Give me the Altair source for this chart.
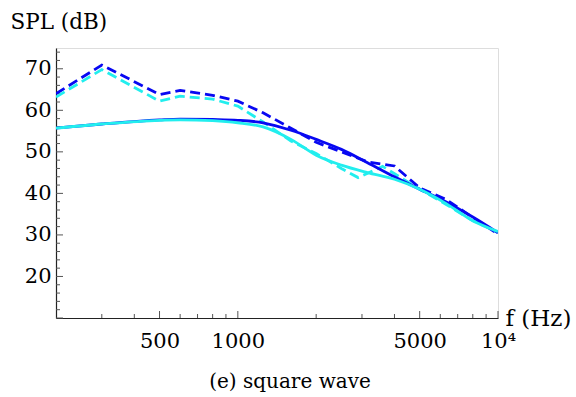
import altair as alt
import pandas as pd

# ---- data ----
freq_blue_dashed = [200, 300, 500, 600, 800, 1000, 1250, 1600, 2000, 2500, 3150, 4000, 5000, 6300, 8000, 10000]
spl_blue_dashed = [64.0, 70.9, 63.8, 64.8, 63.6, 62.2, 59.4, 55.7, 52.3, 50.0, 47.6, 46.6, 41.3, 38.6, 34.2, 30.2]

freq_cyan_dashed = [200, 300, 500, 600, 800, 1000, 1250, 1600, 2000, 2500, 2900, 3600, 5000, 6300, 8000, 10000]
spl_cyan_dashed = [63.2, 69.8, 62.2, 63.4, 62.7, 61.0, 57.2, 52.6, 49.6, 46.0, 43.8, 46.5, 41.0, 37.4, 33.4, 30.6]

freq_smooth = [200, 300, 500, 600, 800, 1000, 1250, 1600, 2000, 2500, 3150, 4000, 5000, 6300, 8000, 10000]
spl_blue_solid = [55.7, 56.7, 57.7, 57.9, 57.8, 57.6, 57.0, 55.2, 53.0, 50.6, 47.4, 44.0, 41.0, 38.0, 34.3, 30.5]
spl_cyan_solid = [55.7, 56.7, 57.6, 57.7, 57.5, 57.0, 56.0, 53.0, 49.2, 46.8, 45.0, 43.4, 41.0, 37.6, 33.4, 30.8]

y_major = [10, 20, 30, 40, 50, 60, 70]
y_minor = [v for v in range(12, 76, 2) if v % 10 != 0]
y_labels = [20, 30, 40, 50, 60, 70]
x_major = [500, 1000, 5000, 10000]
x_minor = [300, 400, 600, 700, 800, 900, 2000, 3000, 4000, 6000, 7000, 8000, 9000]

W, H = 442, 270
FONT = "DejaVu Serif"

xscale = alt.Scale(type="log", domain=[200, 10000], nice=False)
yscale = alt.Scale(domain=[10, 75], nice=False, zero=False)

xaxis = alt.Axis(
    values=x_major, ticks=False, grid=False, domainColor="#222", domainWidth=1.2,
    labelFont=FONT, labelFontSize=21, labelColor="black", labelPadding=12,
    labelExpr="datum.value >= 10000 ? '10⁴' : format(datum.value, 'd')",
    title="f (Hz)", titleFont=FONT, titleFontSize=23, titleFontWeight="normal",
    titleColor="black", titleX=W + 7, titleY=0, titleAlign="left",
    titleBaseline="middle", labelFlush=False,
)
yaxis = alt.Axis(
    values=y_labels, ticks=False, grid=False, domainColor="#222", domainWidth=1.2,
    labelFont=FONT, labelFontSize=21, labelColor="black", labelPadding=5,
    title="SPL (dB)", titleFont=FONT, titleFontSize=21.5, titleFontWeight="normal",
    titleColor="black", titleAngle=0, titleX=-46, titleY=-20, titleAlign="left",
    titleBaseline="alphabetic",
)

def line_df(f, v):
    return pd.DataFrame({"f": f, "spl": v})

base_axes = alt.Chart(line_df(freq_smooth, spl_blue_solid)).mark_line(opacity=0).encode(
    x=alt.X("f:Q", scale=xscale, axis=xaxis),
    y=alt.Y("spl:Q", scale=yscale, axis=yaxis),
)

def curve(f, v, color, dash, interp):
    kw = dict(color=color, strokeWidth=2.8, interpolate=interp, clip=True)
    if dash:
        kw["strokeDash"] = dash
    return alt.Chart(line_df(f, v)).mark_line(**kw).encode(
        x=alt.X("f:Q", scale=xscale),
        y=alt.Y("spl:Q", scale=yscale),
    )

blue_d = curve(freq_blue_dashed, spl_blue_dashed, "#0808f2", [10, 5], "linear")
cyan_d = curve(freq_cyan_dashed, spl_cyan_dashed, "#22eeee", [10, 5], "linear")
blue_s = curve(freq_smooth, spl_blue_solid, "#0808f2", None, "monotone")
cyan_s = curve(freq_smooth, spl_cyan_solid, "#22eeee", None, "monotone")

# inward ticks
def yticks(vals, length):
    return alt.Chart(pd.DataFrame({"spl": vals})).mark_rule(color="#555", strokeWidth=1).encode(
        y=alt.Y("spl:Q", scale=yscale), x=alt.value(0), x2=alt.value(length)
    )

def xticks(vals, length):
    return alt.Chart(pd.DataFrame({"f": vals})).mark_rule(color="#555", strokeWidth=1).encode(
        x=alt.X("f:Q", scale=xscale), y=alt.value(H), y2=alt.value(H - length)
    )

caption = alt.Chart(pd.DataFrame({"t": ["(e) square wave"]})).mark_text(
    font=FONT, fontSize=20, color="black", align="center", baseline="middle"
).encode(text="t:N", x=alt.value(234), y=alt.value(334))

chart = alt.layer(
    base_axes,
    yticks(y_major, 7), yticks(y_minor, 4),
    xticks(x_major, 7), xticks(x_minor, 4),
    blue_d, cyan_d, blue_s, cyan_s,
    caption,
).properties(
    width=W, height=H,
    autosize=alt.AutoSizeParams(type="none"),
    padding={"left": 56, "top": 48, "right": 78, "bottom": 79},
).configure_view(strokeWidth=0).configure(background="white")

chart.save("out.html", embed_options={"renderer": "svg", "actions": False})
